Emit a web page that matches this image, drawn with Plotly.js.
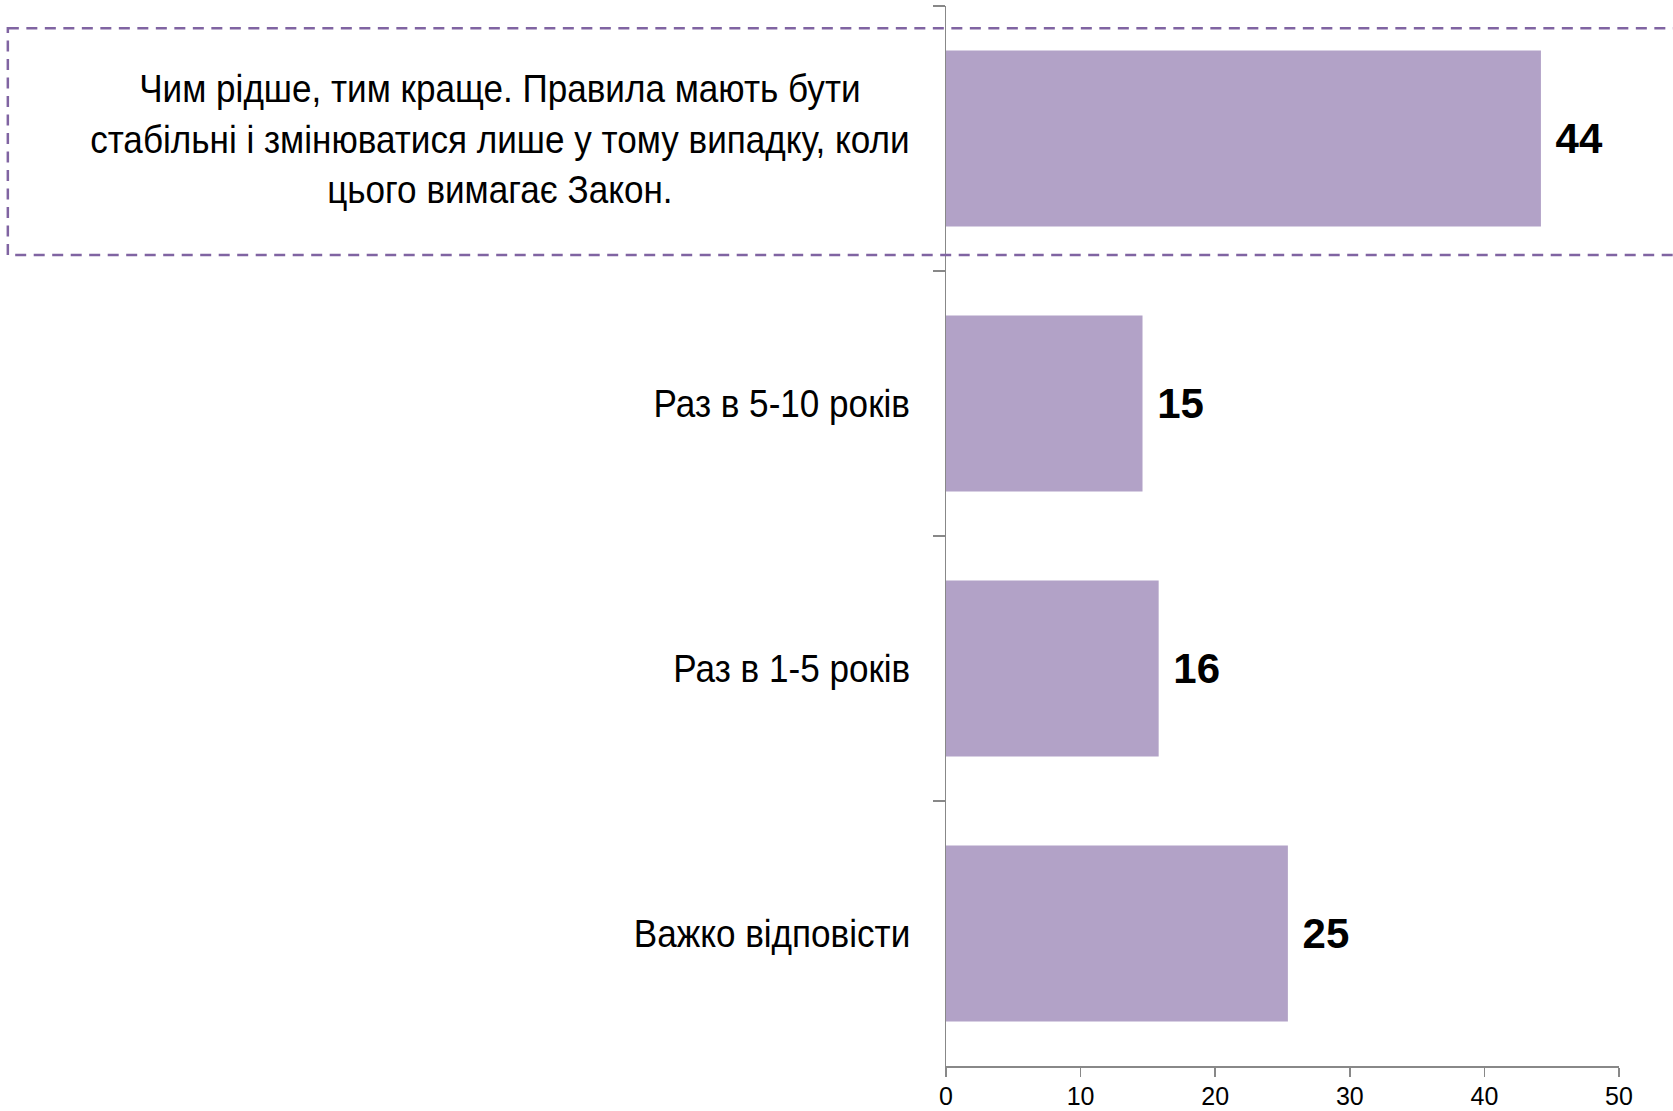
<!DOCTYPE html>
<html>
<head>
<meta charset="utf-8">
<script src="https://cdn.plot.ly/plotly-3.0.1.min.js"></script>
<style>
  html, body { margin: 0; padding: 0; background: #ffffff; }
  #chart { width: 1673px; height: 1111px; }
</style>
</head>
<body>
<div id="chart"></div>
<script>
// Data
const categories = [
  "Чим рідше, тим краще. Правила мають бути<br>стабільні і змінюватися лише у тому випадку, коли<br>цього вимагає Закон.",
  "Раз в 5-10 років",
  "Раз в 1-5 років",
  "Важко відповісти"
];
const values = [44.2, 14.6, 15.8, 25.4];
const xTickValues = [0, 10, 20, 30, 40, 50];

const labelFont = "'Liberation Sans', Arial, sans-serif";

const trace = {
  type: 'bar',
  orientation: 'h',
  y: categories,
  x: values,
  width: 0.665,
  marker: { color: '#B2A2C7', line: { width: 0 } },
  texttemplate: '\u00a0%{x:.0f}',
  textposition: 'outside',
  constraintext: 'none',
  cliponaxis: false,
  textfont: { family: labelFont, size: 42, color: '#000000', weight: 'bold' },
  hoverinfo: 'x+y'
};

const annotations = categories.map(c => ({
  xref: 'x', yref: 'y',
  x: 0, y: c,
  xanchor: 'right', yanchor: 'middle',
  xshift: -34,
  align: 'center',
  showarrow: false,
  text: c,
  font: { family: labelFont, size: 39, color: '#000000' }
}));

const layout = {
  width: 1673,
  height: 1111,
  margin: { l: 946, r: 54, t: 6, b: 45, pad: 0 },
  paper_bgcolor: '#ffffff',
  plot_bgcolor: 'rgba(0,0,0,0)',
  showlegend: false,
  bargap: 0.335,
  xaxis: {
    range: [0, 50],
    tickvals: xTickValues,
    ticktext: xTickValues.map(String),
    showgrid: false,
    zeroline: false,
    showline: true,
    linecolor: '#888888',
    linewidth: 1.5,
    ticks: 'outside',
    ticklen: 9,
    tickwidth: 1.5,
    tickcolor: '#888888',
    ticklabelstandoff: -2,
    tickfont: { family: labelFont, size: 25, color: '#000000' },
    fixedrange: true
  },
  yaxis: {
    type: 'category',
    categoryorder: 'array',
    categoryarray: categories,
    range: [3.5, -0.5],
    showticklabels: false,
    showgrid: false,
    zeroline: false,
    showline: true,
    linecolor: '#888888',
    linewidth: 1.5,
    ticks: 'outside',
    tickson: 'boundaries',
    ticklen: 12,
    tickwidth: 1.5,
    tickcolor: '#888888',
    fixedrange: true
  },
  shapes: [{
    type: 'rect',
    xref: 'paper', yref: 'y',
    x0: -1.394, x1: 1.2,
    y0: -0.416, y1: 0.44,
    line: { color: '#8064A2', width: 2.5, dash: '11px,7.5px' },
    fillcolor: 'rgba(0,0,0,0)',
    layer: 'above'
  }],
  annotations: annotations
};

Plotly.newPlot('chart', [trace], layout, { displayModeBar: false, staticPlot: true }).then(gd => {
  // narrow the category labels (the reference uses a condensed typeface)
  gd.querySelectorAll('.annotation-text').forEach(t => {
    const bb = t.getBBox();
    const rx = bb.x + bb.width;
    const prev = t.getAttribute('transform') || '';
    t.setAttribute('transform', prev + ' translate(' + rx + ',0) scale(0.9,1) translate(' + (-rx) + ',0)');
  });
});
</script>
</body>
</html>
